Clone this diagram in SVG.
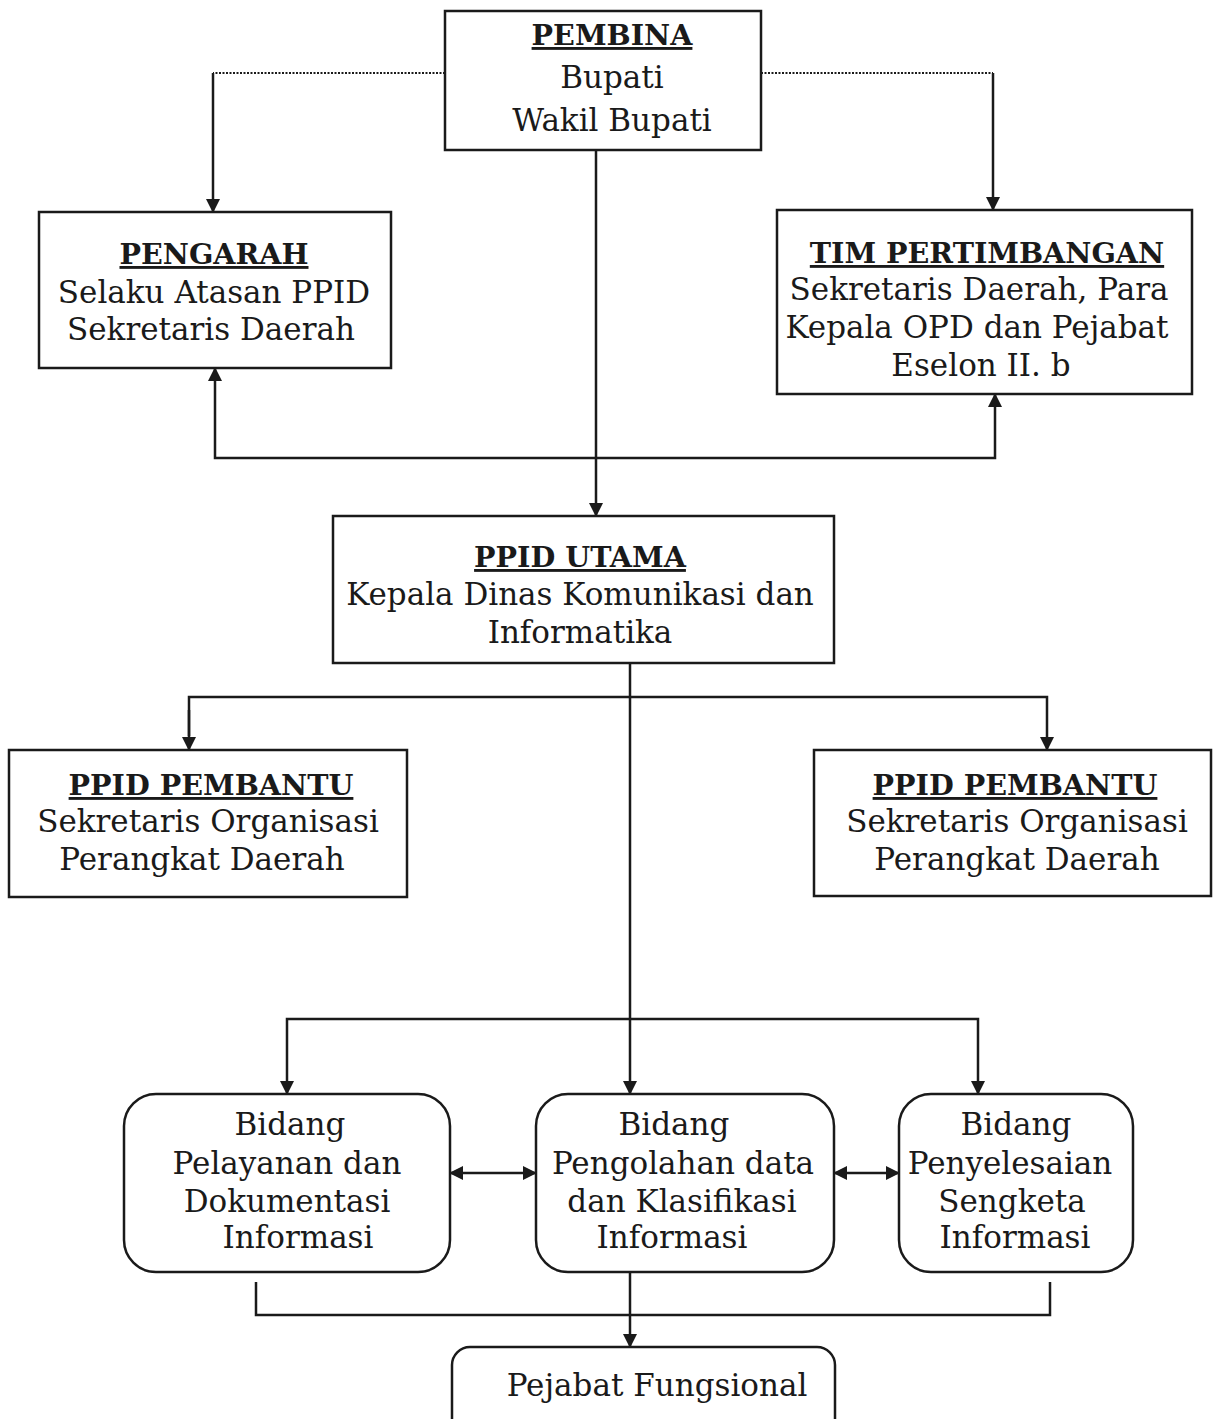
<svg xmlns="http://www.w3.org/2000/svg" width="1215" height="1419" viewBox="0 0 1215 1419">
<style>
.box{fill:#fff;stroke:#1a1a1a;stroke-width:2.5}
.ln{fill:none;stroke:#1a1a1a;stroke-width:2.5}
.dot{fill:none;stroke:#1a1a1a;stroke-width:2;stroke-dasharray:2 1.5}
text{font-family:"DejaVu Serif","Liberation Serif",serif;font-size:31px;fill:#1a1a1a;text-anchor:middle}
.t{font-weight:bold;text-decoration:underline;font-size:28.6px}
</style>
<defs>
<marker id="as" markerWidth="14" markerHeight="14" refX="13" refY="7" orient="auto-start-reverse" markerUnits="userSpaceOnUse" viewBox="0 0 14 14">
<path d="M0,0 L14,7 L0,14 Z" fill="#1a1a1a"/>
</marker>
</defs>
<rect width="1215" height="1419" fill="#fff"/>
<g id="connectors">
<path class="dot" d="M445,73 H213"/>
<path class="ln" d="M213,73 V212" marker-end="url(#as)"/>
<path class="dot" d="M761,73 H993"/>
<path class="ln" d="M993,73 V210" marker-end="url(#as)"/>
<path class="ln" d="M596,150 V516" marker-end="url(#as)"/>
<path class="ln" d="M215,368 V458 H995 V394" marker-start="url(#as)" marker-end="url(#as)"/>
<path class="ln" d="M630,663 V1094" marker-end="url(#as)"/>
<path class="ln" d="M189,736 V697 H1047 V750" marker-end="url(#as)"/>
<path class="ln" d="M189,710 V750" marker-end="url(#as)"/>
<path class="ln" d="M287,1060 V1019 H978 V1094" marker-end="url(#as)"/>
<path class="ln" d="M287,1060 V1094" marker-end="url(#as)"/>
<path class="ln" d="M450,1173 H536" marker-start="url(#as)" marker-end="url(#as)"/>
<path class="ln" d="M834,1173 H899" marker-start="url(#as)" marker-end="url(#as)"/>
<path class="ln" d="M256,1282 V1315 H1050 V1282"/>
<path class="ln" d="M630,1272 V1347" marker-end="url(#as)"/>
</g>
<g id="pembina">
<rect class="box" x="445" y="11" width="316" height="139"/>
<text class="t" x="612" y="45">PEMBINA</text>
<text x="612" y="88">Bupati</text>
<text x="612" y="131">Wakil Bupati</text>
</g>
<g id="pengarah">
<rect class="box" x="39" y="212" width="352" height="156"/>
<text class="t" x="214" y="264">PENGARAH</text>
<text x="214" y="303">Selaku Atasan PPID</text>
<text x="211" y="340">Sekretaris Daerah</text>
</g>
<g id="tim-pertimbangan">
<rect class="box" x="777" y="210" width="415" height="184"/>
<text class="t" x="987" y="263">TIM PERTIMBANGAN</text>
<text x="979" y="300">Sekretaris Daerah, Para</text>
<text x="977" y="338">Kepala OPD dan Pejabat</text>
<text x="981" y="376">Eselon II. b</text>
</g>
<g id="ppid-utama">
<rect class="box" x="333" y="516" width="501" height="147"/>
<text class="t" x="580" y="567">PPID UTAMA</text>
<text x="580" y="605">Kepala Dinas Komunikasi dan</text>
<text x="580" y="643">Informatika</text>
</g>
<g id="ppid-pembantu-kiri">
<rect class="box" x="9" y="750" width="398" height="147"/>
<text class="t" x="211" y="795">PPID PEMBANTU</text>
<text x="208" y="832">Sekretaris Organisasi</text>
<text x="202" y="870">Perangkat Daerah</text>
</g>
<g id="ppid-pembantu-kanan">
<rect class="box" x="814" y="750" width="397" height="146"/>
<text class="t" x="1015" y="795">PPID PEMBANTU</text>
<text x="1017" y="832">Sekretaris Organisasi</text>
<text x="1017" y="870">Perangkat Daerah</text>
</g>
<g id="bidang-pelayanan">
<rect class="box" x="124" y="1094" width="326" height="178" rx="32"/>
<text x="290" y="1135">Bidang</text>
<text x="287" y="1174">Pelayanan dan</text>
<text x="287" y="1212">Dokumentasi</text>
<text x="298" y="1248">Informasi</text>
</g>
<g id="bidang-pengolahan">
<rect class="box" x="536" y="1094" width="298" height="178" rx="32"/>
<text x="674" y="1135">Bidang</text>
<text x="683" y="1174">Pengolahan data</text>
<text x="682" y="1212">dan Klasifikasi</text>
<text x="672" y="1248">Informasi</text>
</g>
<g id="bidang-penyelesaian">
<rect class="box" x="899" y="1094" width="234" height="178" rx="32"/>
<text x="1016" y="1135">Bidang</text>
<text x="1010" y="1174">Penyelesaian</text>
<text x="1012" y="1212">Sengketa</text>
<text x="1015" y="1248">Informasi</text>
</g>
<g id="pejabat-fungsional">
<rect class="box" x="452" y="1347" width="383" height="90" rx="18"/>
<text x="657" y="1396">Pejabat Fungsional</text>
</g>
</svg>
